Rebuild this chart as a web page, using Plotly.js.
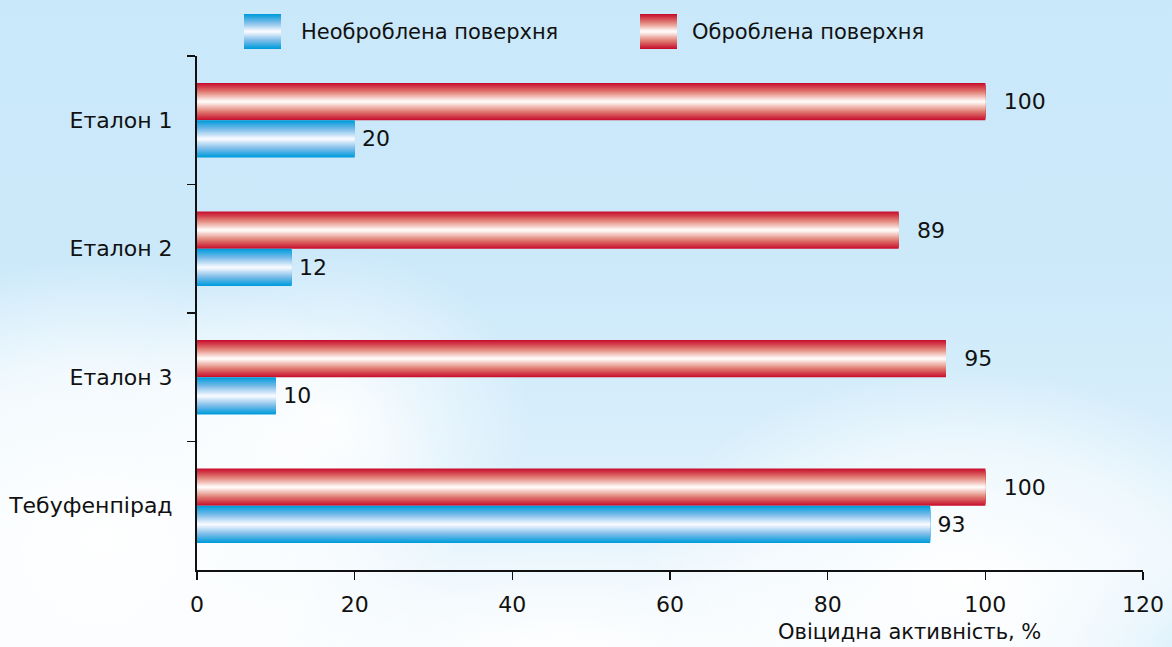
<!DOCTYPE html>
<html>
<head>
<meta charset="utf-8">
<script src="https://cdn.plot.ly/plotly-3.0.1.min.js"></script>
<style>
html,body{margin:0;padding:0;}
body{
  width:1172px;height:647px;overflow:hidden;
  background:
    radial-gradient(ellipse 360px 280px at 100px 540px, rgba(255,255,255,0.98), rgba(255,255,255,0.7) 60%, rgba(255,255,255,0) 100%),
    radial-gradient(ellipse 200px 170px at 330px 420px, rgba(255,255,255,0.92), rgba(255,255,255,0) 100%),
    radial-gradient(ellipse 320px 210px at 960px 580px, rgba(255,255,255,0.98), rgba(255,255,255,0.5) 65%, rgba(255,255,255,0) 100%),
    radial-gradient(ellipse 420px 130px at 560px 650px, rgba(255,255,255,0.95), rgba(255,255,255,0) 100%),
    radial-gradient(ellipse 160px 90px at 1172px 640px, rgba(200,232,249,0.9), rgba(200,232,249,0) 100%),
    linear-gradient(180deg, #c9e8f9 0%, #cce9fa 40%, #d9effb 70%, #eef7fd 100%);
}
#chart{width:1172px;height:647px;}
</style>
</head>
<body>
<div id="chart"></div>
<script>
// ---- data ----
const categories = ['Еталон 1', 'Еталон 2', 'Еталон 3', 'Тебуфенпірад'];
const untreated = [20, 12, 10, 93];      // Необроблена поверхня
const treated = [100, 89, 95, 100];      // Оброблена поверхня
const seriesNames = ['Необроблена поверхня', 'Оброблена поверхня'];
const xTicks = [0, 20, 40, 60, 80, 100, 120];
const xTitle = 'Овіцидна активність, %';

// ---- styling helpers ----
const FONT = 'DejaVu Sans, Verdana, sans-serif';
const BAR_W = 0.29;
const LAYERS = 20;
const redStops = [[200,16,46],[226,132,120],[255,250,248]];
const blueStops = [[0,156,219],[128,190,234],[246,249,255]];

function lerp(a,b,t){return a+(b-a)*t;}
function gradColor(stops, t){ // t: 0 edge -> 1 center
  const seg = t < 0.5 ? 0 : 1;
  const lt = seg === 0 ? t/0.5 : (t-0.5)/0.5;
  const a = stops[seg], b = stops[seg+1];
  return 'rgb(' + [0,1,2].map(i=>Math.round(lerp(a[i],b[i],lt))).join(',') + ')';
}

const traces = [];
function addGradientBars(values, stops, center){
  for (let k = 0; k < LAYERS; k++){
    const w = BAR_W * (1 - k / LAYERS);
    const t = k / (LAYERS - 1);
    traces.push({
      type: 'bar', orientation: 'h',
      x: values, y: categories,
      width: w, offset: center - w / 2,
      marker: {color: gradColor(stops, t), line: {width: 0}},
      showlegend: false, hoverinfo: 'skip'
    });
  }
}
// treated (red) above, untreated (blue) below within each category (y reversed)
addGradientBars(treated, redStops, -BAR_W / 2);
addGradientBars(untreated, blueStops, BAR_W / 2);

function addLabels(values, center, tmpl){
  traces.push({
    type: 'bar', orientation: 'h',
    x: values, y: categories,
    width: BAR_W, offset: center - BAR_W / 2,
    marker: {color: 'rgba(0,0,0,0)'},
    text: values, texttemplate: tmpl, textposition: 'outside',
    textfont: {family: FONT, size: 22, color: '#111'},
    cliponaxis: false, showlegend: false, hoverinfo: 'skip'
  });
}
addLabels(treated, -BAR_W / 2, '\u2002\u2009%{x}');
addLabels(untreated, BAR_W / 2, '\u2009%{x}');

// ---- plot geometry (pixels) ----
const W = 1172, H = 647;
const L = 197, R = 1143, T = 56, B = 570;
const px = x => (x - L) / (R - L);
const py = y => (B - y) / (B - T);

// custom legend with gradient swatches
const shapes = [];
function swatch(x0, x1, y0, y1, stops){
  const n = 18;
  const h = (y1 - y0);
  for (let k = 0; k < n; k++){
    const hh = h * (1 - k / n);
    const cy = (y0 + y1) / 2;
    shapes.push({
      type: 'rect', xref: 'paper', yref: 'paper',
      x0: px(x0), x1: px(x1), y0: py(cy - hh / 2), y1: py(cy + hh / 2),
      fillcolor: gradColor(stops, k / (n - 1)), line: {width: 0}, layer: 'above'
    });
  }
}
swatch(244, 281, 14, 49, blueStops);
swatch(640, 677, 14, 49, redStops);

const annotations = [
  {xref: 'paper', yref: 'paper', x: px(299), y: py(32), xanchor: 'left', yanchor: 'middle',
   text: seriesNames[0], showarrow: false, font: {family: FONT, size: 21, color: '#111'}},
  {xref: 'paper', yref: 'paper', x: px(690), y: py(32), xanchor: 'left', yanchor: 'middle',
   text: seriesNames[1], showarrow: false, font: {family: FONT, size: 21, color: '#111'}},
  {xref: 'paper', yref: 'paper', x: px(1043), y: py(632), xanchor: 'right', yanchor: 'middle',
   text: xTitle, showarrow: false, font: {family: FONT, size: 21, color: '#111'}}
];

const layout = {
  width: W, height: H,
  margin: {l: L, r: W - R, t: T, b: H - B, pad: 0},
  paper_bgcolor: 'rgba(0,0,0,0)', plot_bgcolor: 'rgba(0,0,0,0)',
  barmode: 'overlay',
  showlegend: false,
  font: {family: FONT, size: 22, color: '#111'},
  xaxis: {
    range: [0, 120], tickvals: xTicks, ticktext: xTicks.map(String),
    ticks: 'outside', ticklen: 8, tickwidth: 1.5, tickcolor: '#111',
    showline: true, linewidth: 2, linecolor: '#111',
    showgrid: false, zeroline: false,
    ticklabelstandoff: 6,
    tickfont: {family: FONT, size: 22, color: '#111'},
    fixedrange: true
  },
  yaxis: {
    type: 'category', categoryorder: 'array', categoryarray: categories,
    range: [3.5, -0.5],
    tickson: 'boundaries', ticks: 'outside', ticklen: 8, tickwidth: 1.5, tickcolor: '#111',
    showline: true, linewidth: 2, linecolor: '#111',
    showgrid: false, zeroline: false,
    ticklabelstandoff: 18,
    tickfont: {family: FONT, size: 22, color: '#111'},
    fixedrange: true
  },
  shapes: shapes,
  annotations: annotations
};

Plotly.newPlot('chart', traces, layout, {staticPlot: true, displayModeBar: false});
</script>
</body>
</html>
